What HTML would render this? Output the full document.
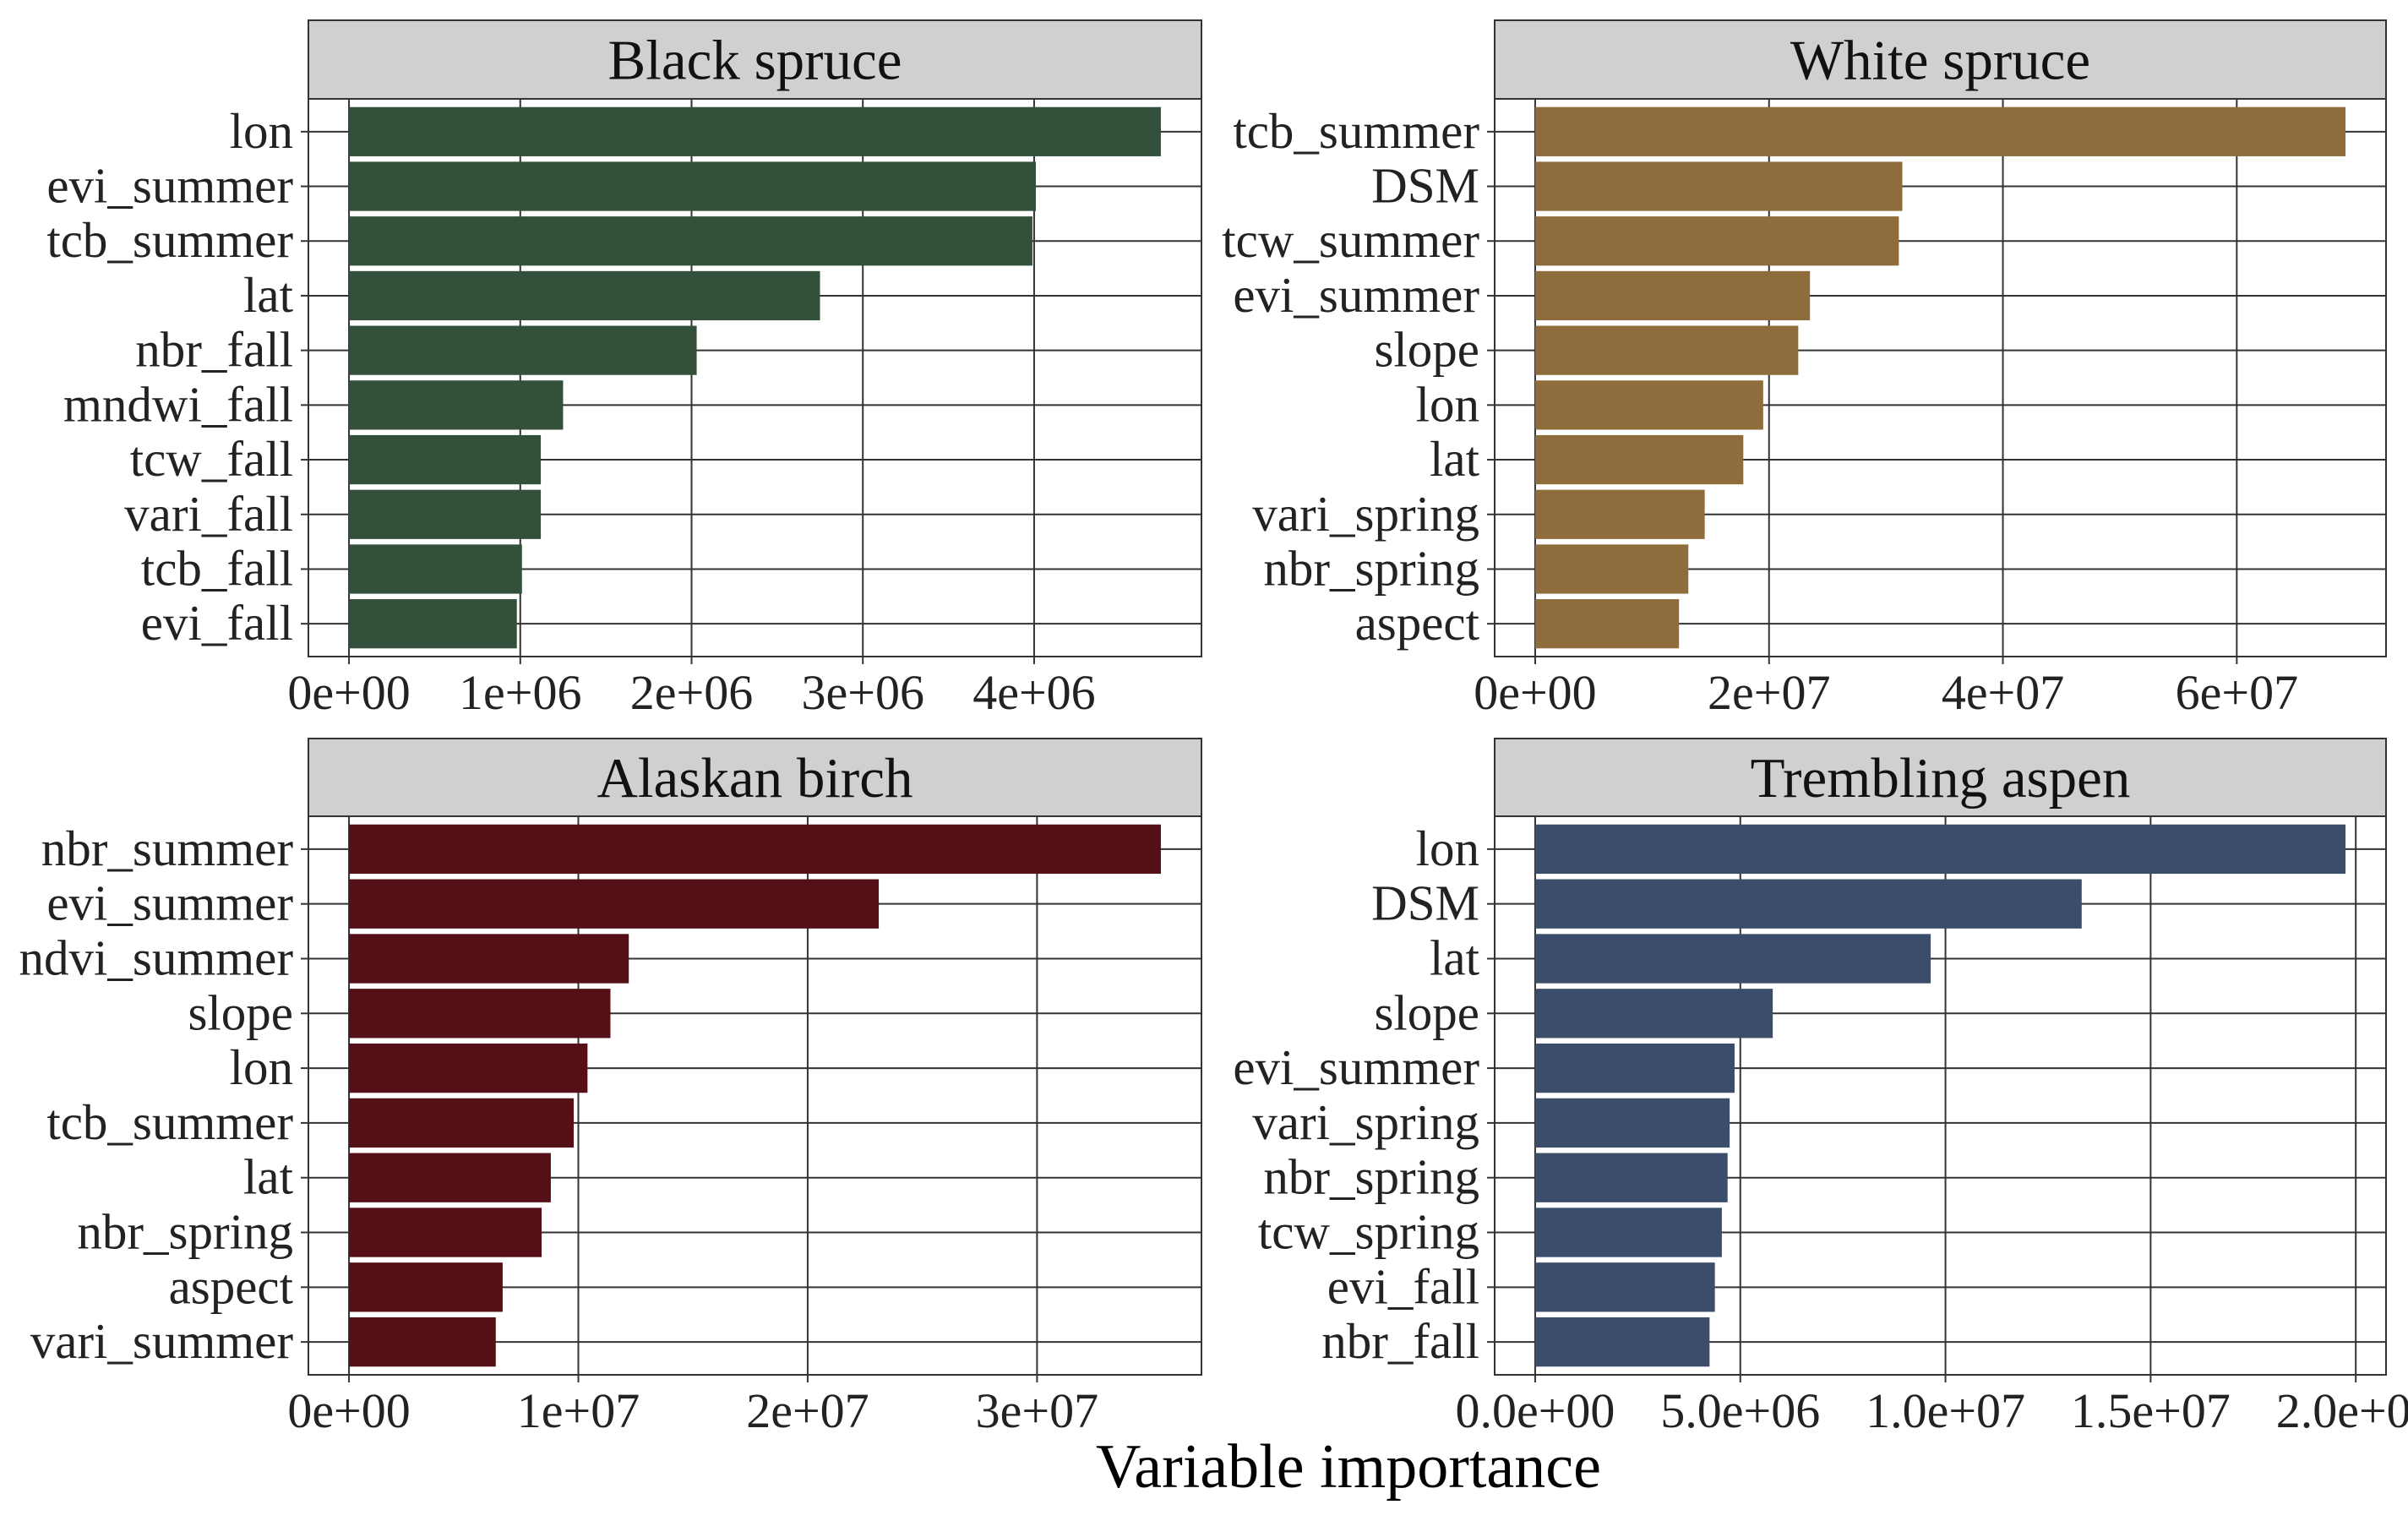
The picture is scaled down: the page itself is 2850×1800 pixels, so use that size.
<!DOCTYPE html>
<html><head><meta charset="utf-8">
<style>
html,body{margin:0;padding:0;background:#fff;}
svg{display:block;font-family:"Liberation Serif",serif;}
</style></head>
<body>
<svg id="chart" width="2850" height="1800" viewBox="0 0 2850 1800" xmlns="http://www.w3.org/2000/svg">
<text x="1596" y="1760" font-size="74" text-anchor="middle" fill="#000">Variable importance</text>
</svg>
<script>
const blackCats = ["lon","evi_summer","tcb_summer","lat","nbr_fall","mndwi_fall","tcw_fall","vari_fall","tcb_fall","evi_fall"];
const blackVals = [4.74e6,4.01e6,3.99e6,2.75e6,2.03e6,1.25e6,1.12e6,1.12e6,1.01e6,0.98e6];
const blackTicks = [0,1e6,2e6,3e6,4e6];
const blackTickLabels = ["0e+00","1e+06","2e+06","3e+06","4e+06"];

const whiteCats = ["tcb_summer","DSM","tcw_summer","evi_summer","slope","lon","lat","vari_spring","nbr_spring","aspect"];
const whiteVals = [6.93e7,3.14e7,3.11e7,2.35e7,2.25e7,1.95e7,1.78e7,1.45e7,1.31e7,1.23e7];
const whiteTicks = [0,2e7,4e7,6e7];
const whiteTickLabels = ["0e+00","2e+07","4e+07","6e+07"];

const birchCats = ["nbr_summer","evi_summer","ndvi_summer","slope","lon","tcb_summer","lat","nbr_spring","aspect","vari_summer"];
const birchVals = [3.54e7,2.31e7,1.22e7,1.14e7,1.04e7,0.98e7,0.88e7,0.84e7,0.67e7,0.64e7];
const birchTicks = [0,1e7,2e7,3e7];
const birchTickLabels = ["0e+00","1e+07","2e+07","3e+07"];

const aspenCats = ["lon","DSM","lat","slope","evi_summer","vari_spring","nbr_spring","tcw_spring","evi_fall","nbr_fall"];
const aspenVals = [1.975e7,1.332e7,0.964e7,0.579e7,0.486e7,0.474e7,0.469e7,0.455e7,0.438e7,0.425e7];
const aspenTicks = [0,5e6,1e7,1.5e7,2e7];
const aspenTickLabels = ["0.0e+00","5.0e+06","1.0e+07","1.5e+07","2.0e+07"];

const NS = "http://www.w3.org/2000/svg";
const svg = document.getElementById("chart");
function mk(tag, attrs, parent){
  const e = document.createElementNS(NS, tag);
  for (const k in attrs) e.setAttribute(k, attrs[k]);
  (parent||svg).appendChild(e);
  return e;
}
function panel(key, title, color, cats, vals, ticks, tickLabels, x0, x1, sy0, py0, py1){
  const g = mk("g", {});
  
  
  const max = Math.max(...vals);
  const dmin = -0.05*max, dmax = 1.05*max;
  const xs = v => x0 + (v - dmin)/(dmax - dmin)*(x1 - x0);
  const n = cats.length;
  const step = (py1 - py0)/(n - 1 + 1.2);
  const ys = i => py0 + step*(0.6 + i);
  const strip = mk("rect", {x:x0, y:sy0, width:x1-x0, height:py0-sy0, fill:"#d0d0d0", stroke:"#333", "stroke-width":2}, g);
  
  
  const st = mk("text", {x:(x0+x1)/2, y:sy0+(py0-sy0)/2+23, "font-size":67, "text-anchor":"middle", fill:"#111"}, g);
  st.textContent = title;
  
  
  ticks.forEach((t) => {
    const l = mk("line", {x1:xs(t), x2:xs(t), y1:py0, y2:py1, stroke:"#333", "stroke-width":2}, g);
    
    
  });
  cats.forEach((c, i) => {
    const l = mk("line", {x1:x0, x2:x1, y1:ys(i), y2:ys(i), stroke:"#333", "stroke-width":2}, g);
    
    
  });
  const bh = step*0.9;
  vals.forEach((v, i) => {
    const r = mk("rect", {x:xs(0), y:ys(i)-bh/2, width:xs(v)-xs(0), height:bh, fill:color}, g);
    
    
  });
  const b = mk("rect", {x:x0, y:py0, width:x1-x0, height:py1-py0, fill:"none", stroke:"#333", "stroke-width":2}, g);
  
  
  cats.forEach((c, i) => {
    mk("line", {x1:x0-9, x2:x0, y1:ys(i), y2:ys(i), stroke:"#333", "stroke-width":2}, g);
    const t = mk("text", {x:x0-18, y:ys(i)+19, "font-size":59, "text-anchor":"end", fill:"#222"}, g);
    t.textContent = c;
    
    
  });
  ticks.forEach((tv, i) => {
    mk("line", {x1:xs(tv), x2:xs(tv), y1:py1, y2:py1+9, stroke:"#333", "stroke-width":2}, g);
    const t = mk("text", {x:xs(tv), y:py1+62, "font-size":58, "text-anchor":"middle", fill:"#222"}, g);
    t.textContent = tickLabels[i];
    
    
  });
}
panel("black-spruce","Black spruce","#33513a",blackCats,blackVals,blackTicks,blackTickLabels,365,1422,24,117,777);
panel("white-spruce","White spruce","#8f6c3c",whiteCats,whiteVals,whiteTicks,whiteTickLabels,1769,2824,24,117,777);
panel("alaskan-birch","Alaskan birch","#540f17",birchCats,birchVals,birchTicks,birchTickLabels,365,1422,874,966,1627);
panel("trembling-aspen","Trembling aspen","#3c4d6c",aspenCats,aspenVals,aspenTicks,aspenTickLabels,1769,2824,874,966,1627);
</script>
</body></html>
